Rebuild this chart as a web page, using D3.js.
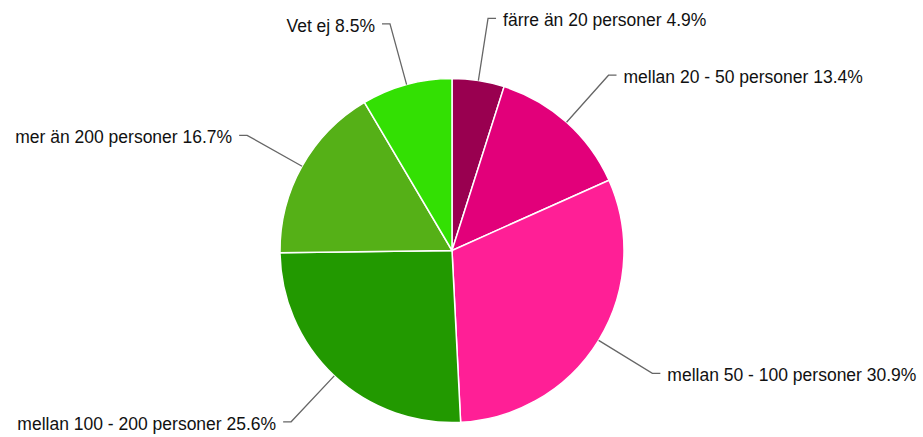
<!DOCTYPE html>
<html>
<head>
<meta charset="utf-8">
<script src="https://cdn.jsdelivr.net/npm/d3@7"></script>
<style>
  body { margin: 0; background: #fff; }
  svg text { font-family: "Liberation Sans", Arial, Helvetica, sans-serif; font-size: 17.5px; fill: #111; }
</style>
</head>
<body>
<svg width="923" height="437"></svg>
<script>
"use strict";

const categories = ["färre än 20 personer", "mellan 20 - 50 personer", "mellan 50 - 100 personer",
    "mellan 100 - 200 personer", "mer än 200 personer", "Vet ej"];
const values = [4.9, 13.4, 30.9, 25.6, 16.7, 8.5];
const colors = ["#990050", "#e2007a", "#ff1f96", "#229900", "#55b017", "#33e003"];

const data = categories.map((c, i) => ({ name: c, value: values[i], color: colors[i] }));

const svg = d3.select("svg");
const cx = 452, cy = 250.5;
const radius = 172;
const labelRadius = 235;

const chart = svg.append("g").attr("transform", `translate(${cx}, ${cy})`);

const pie = d3.pie().sort(null).value(d => d.value);
const arc = d3.arc().innerRadius(0).outerRadius(radius);
const arcs = pie(data);

chart.selectAll("path.slice")
    .data(arcs)
    .enter()
    .append("path")
    .attr("class", "slice")
    .attr("d", arc)
    .attr("fill", d => d.data.color)
    .attr("stroke", "#fff")
    .attr("stroke-width", 1.5);

// leader lines + labels
const mid = d => (d.startAngle + d.endAngle) / 2;
const pt = (a, r) => [r * Math.sin(a), -r * Math.cos(a)];

arcs.forEach(d => {
    const a = mid(d);
    const p0 = pt(a, radius);
    const p1 = pt(a, labelRadius);
    const right = Math.sin(a) >= 0;
    const p2 = [p1[0] + (right ? 8 : -8), p1[1]];

    chart.append("polyline")
        .attr("points", [p0, p1, p2].map(p => p.join(",")).join(" "))
        .attr("fill", "none")
        .attr("stroke", "#666")
        .attr("stroke-width", 1.3);

    chart.append("text")
        .attr("x", p2[0] + (right ? 7 : -7))
        .attr("y", p2[1] + 8)
        .attr("text-anchor", right ? "start" : "end")
        .text(`${d.data.name} ${d.data.value.toFixed(1)}%`);
});
</script>
</body>
</html>
